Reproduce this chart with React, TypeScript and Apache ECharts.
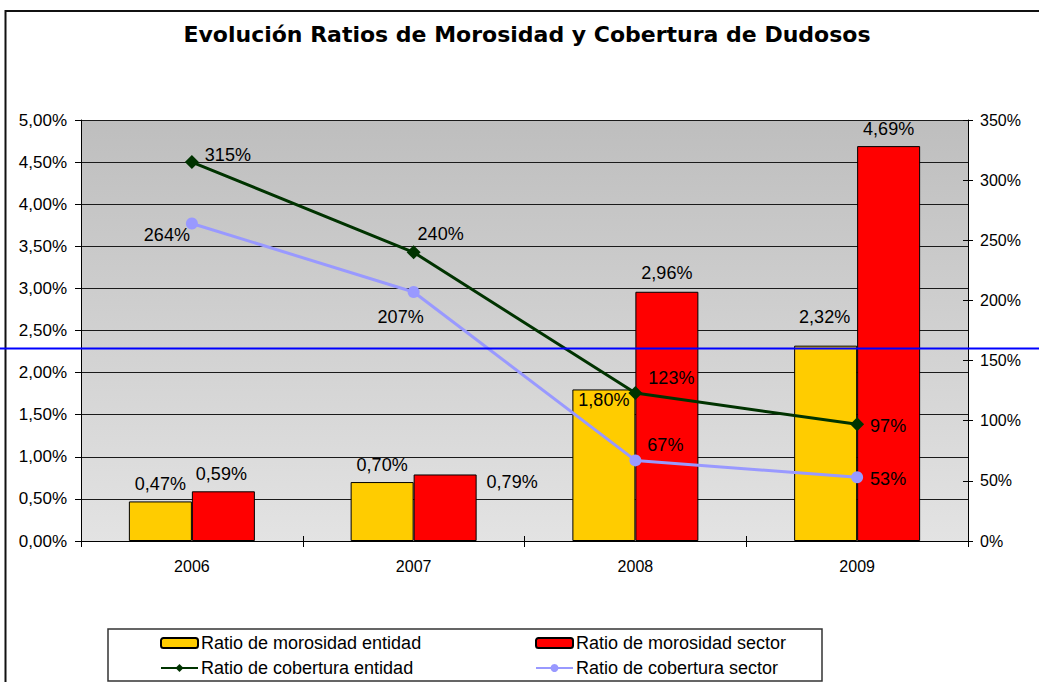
import React, { useEffect, useRef } from "react";
import * as echarts from "echarts";

const title = "Evolución Ratios de Morosidad y Cobertura de Dudosos";
const categories = ["2006", "2007", "2008", "2009"];
const morosidadEntidad = [0.47, 0.7, 1.8, 2.32];
const morosidadSector = [0.59, 0.79, 2.96, 4.69];
const coberturaEntidad = [315, 240, 123, 97];
const coberturaSector = [264, 207, 67, 53];
const seriesNames = [
  "Ratio de morosidad entidad",
  "Ratio de morosidad sector",
  "Ratio de cobertura entidad",
  "Ratio de cobertura sector",
];

// label placements (pixel nudges)
const entBarLabelOffsets = [[0, 0], [0, 0], [0, 28], [-1, -12]];
const secBarLabelOffsets = [[-2, 0], [67, 25], [0, -2], [0, 0]];
const entLineLabelOffsets = [[36, -7], [27, -18], [36, -15], [31, 2]];
const secLineLabelOffsets = [[-25, 12], [-13, 25], [30, -15], [31, 2]];

const FONT = "Liberation Sans, Arial, sans-serif";
const pct2 = (v: number) => v.toFixed(2).replace(".", ",") + "%";

export default function App() {
  const ref = useRef<HTMLDivElement>(null);
  useEffect(() => {
    document.body.style.margin = "0";
    const chart = echarts.init(ref.current!, null, { renderer: "svg" });
    const labelBase = { color: "#000", fontFamily: FONT, fontSize: 18 };
    const barData = (vals: number[], offs: number[][]) =>
      vals.map((v, i) => ({ value: v, label: { offset: offs[i] } }));
    const lineData = (vals: number[], offs: number[][]) =>
      vals.map((v, i) => ({ value: v, label: { offset: offs[i] } }));

    const legendBase = {
      orient: "vertical",
      top: 633,
      height: 60,
      padding: 0,
      itemWidth: 37,
      itemHeight: 10,
      itemGap: 5,
      textStyle: { color: "#000", fontFamily: FONT, fontSize: 18, lineHeight: 20, padding: [0, 0, 0, -2] },
    };

    const option: any = {
      animation: false,
      backgroundColor: "#fff",
      grid: {
        left: 81,
        right: 71,
        top: 120,
        bottom: 141,
        show: true,
        borderWidth: 0,
        backgroundColor: new echarts.graphic.LinearGradient(0, 0, 0, 1, [
          { offset: 0, color: "#bebebe" },
          { offset: 1, color: "#e3e3e3" },
        ]),
      },
      xAxis: [
        {
          type: "category",
          data: categories,
          axisLine: { lineStyle: { color: "#000", width: 1 } },
          axisTick: { show: true, length: 6, lineStyle: { color: "#000" } },
          axisLabel: { color: "#000", fontFamily: FONT, fontSize: 16, margin: 17 },
        },
        {
          type: "category",
          data: categories,
          position: "bottom",
          axisLine: { show: false },
          axisTick: { show: true, inside: true, length: 5, lineStyle: { color: "#000" } },
          axisLabel: { show: false },
        },
      ],
      yAxis: [
        {
          type: "value",
          min: 0,
          max: 5,
          interval: 0.5,
          position: "left",
          axisLine: { show: true, lineStyle: { color: "#000" } },
          axisTick: { show: true, length: 6, lineStyle: { color: "#000" } },
          axisLabel: { color: "#000", fontFamily: FONT, fontSize: 17, margin: 14, formatter: pct2 },
          splitLine: { show: true, lineStyle: { color: "#1a1a1a", width: 1 } },
        },
        {
          type: "value",
          min: 0,
          max: 350,
          interval: 50,
          position: "right",
          axisLine: { show: true, lineStyle: { color: "#000" } },
          axisTick: { show: true, length: 5, lineStyle: { color: "#000" } },
          axisLabel: {
            color: "#000",
            fontFamily: FONT,
            fontSize: 16,
            margin: 12,
            formatter: (v: number) => v + "%",
          },
          splitLine: { show: false },
        },
        {
          type: "value",
          min: 0,
          max: 350,
          interval: 50,
          position: "right",
          offset: 0,
          axisLine: { show: false },
          axisTick: { show: true, inside: true, length: 5, lineStyle: { color: "#000" } },
          axisLabel: { show: false },
          splitLine: { show: false },
        },
      ],
      legend: [
        { ...legendBase, left: 160, data: [seriesNames[0], seriesNames[2]] },
        { ...legendBase, left: 535, data: [seriesNames[1], seriesNames[3]] },
      ],
      series: [
        {
          name: seriesNames[0],
          type: "bar",
          barWidth: 63,
          barGap: "0%",
          itemStyle: { color: "#ffcc00", borderColor: "#000", borderWidth: 1 },
          label: { show: true, position: "top", distance: 8, ...labelBase, formatter: (p: any) => pct2(p.value) },
          data: barData(morosidadEntidad, entBarLabelOffsets),
          z: 2,
        },
        {
          name: seriesNames[1],
          type: "bar",
          barWidth: 63,
          barGap: "0%",
          itemStyle: { color: "#ff0000", borderColor: "#000", borderWidth: 1 },
          label: { show: true, position: "top", distance: 8, ...labelBase, formatter: (p: any) => pct2(p.value) },
          data: barData(morosidadSector, secBarLabelOffsets),
          z: 2,
        },
        {
          name: seriesNames[2],
          type: "line",
          yAxisIndex: 1,
          symbol: "diamond",
          symbolSize: 14,
          lineStyle: { color: "#003300", width: 3 },
          itemStyle: { color: "#003300" },
          label: { show: true, position: "inside", ...labelBase, formatter: (p: any) => p.value + "%" },
          data: lineData(coberturaEntidad, entLineLabelOffsets),
          z: 4,
        },
        {
          name: seriesNames[3],
          type: "line",
          yAxisIndex: 1,
          symbol: "circle",
          symbolSize: 12,
          lineStyle: { color: "#9999ff", width: 3 },
          itemStyle: { color: "#9999ff" },
          label: { show: true, position: "inside", ...labelBase, formatter: (p: any) => p.value + "%" },
          data: lineData(coberturaSector, secLineLabelOffsets),
          z: 3,
        },
      ],
      graphic: [
        {
          type: "rect",
          shape: { x: 5.5, y: 11, width: 1100, height: 700 },
          style: { fill: "none", stroke: "#111", lineWidth: 2 },
          z: 0,
          silent: true,
        },
        {
          type: "text",
          x: 527,
          y: 34,
          style: {
            text: title,
            fill: "#000",
            font: "bold 22px 'DejaVu Sans', Verdana, sans-serif",
            textAlign: "center",
            textVerticalAlign: "middle",
          },
        },
        {
          type: "rect",
          shape: { x: 108, y: 629, width: 714, height: 52 },
          style: { fill: "#fff", stroke: "#333", lineWidth: 1.5 },
          z: -1,
          silent: true,
        },
        {
          type: "line",
          shape: { x1: 0, y1: 348.5, x2: 1039, y2: 348.5 },
          style: { stroke: "#0000ff", lineWidth: 2 },
          z: 100,
          silent: true,
        },
      ],
    };
    chart.setOption(option);
    return () => chart.dispose();
  }, []);
  return (
    <div
      ref={ref}
      style={{ position: "fixed", left: 0, top: 0, width: 1039, height: 682 }}
    />
  );
}
